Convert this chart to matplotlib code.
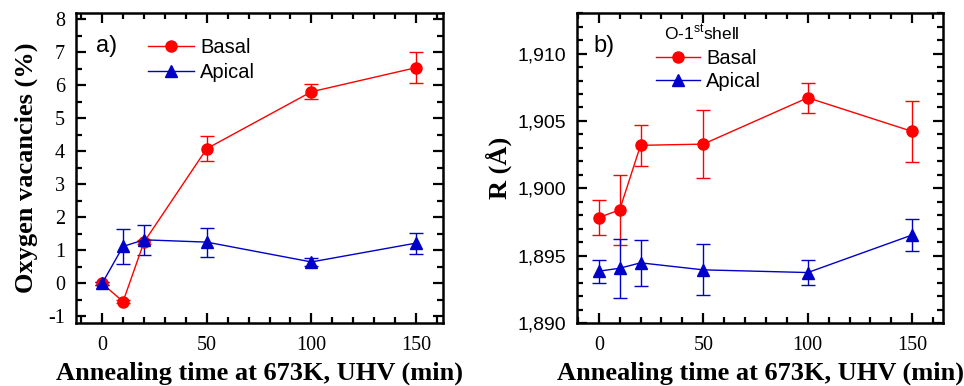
import numpy as np
import matplotlib
matplotlib.use('Agg')
import matplotlib.pyplot as plt
from matplotlib.ticker import MultipleLocator, FuncFormatter
from matplotlib.lines import Line2D

plt.rcParams['axes.unicode_minus'] = False

# annealing times (min)
time = [0, 10, 20, 50, 100, 150]

# a) oxygen vacancies (%)
vac_basal = [0.0, -0.55, 1.25, 4.08, 5.80, 6.53]
vac_basal_err = [0.05, 0.05, 0.07, 0.37, 0.23, 0.46]
vac_apical = [0.0, 1.12, 1.32, 1.25, 0.65, 1.22]
vac_apical_err = [0.05, 0.53, 0.46, 0.44, 0.12, 0.32]

# b) O-1st shell distance R (A)
r_basal = [1.89783, 1.89840, 1.90319, 1.90328, 1.90672, 1.90422]
r_basal_err = [0.00127, 0.0026, 0.0015, 0.0025, 0.0011, 0.00225]
r_apical = [1.89385, 1.89407, 1.89447, 1.89395, 1.89375, 1.89654]
r_apical_err = [0.00084, 0.0022, 0.0017, 0.0019, 0.00095, 0.00116]

SERIF = 'Liberation Serif'
SANS = 'Liberation Sans'
RED = '#ff0000'
BLUE = '#0000c8'

fig = plt.figure(figsize=(9.64, 3.86), dpi=100)
ax1 = fig.add_axes([0.0788, 0.163, 0.381, 0.803])
ax2 = fig.add_axes([0.599, 0.163, 0.379, 0.803])


def style_axes(ax):
    for s in ax.spines.values():
        s.set_linewidth(1.8)
    ax.tick_params(which='both', direction='in', top=True, right=True, width=1.6)
    ax.tick_params(which='major', length=7)
    ax.tick_params(which='minor', length=4)
    ax.xaxis.set_major_locator(MultipleLocator(50))
    ax.xaxis.set_minor_locator(MultipleLocator(10))
    for lab in ax.get_xticklabels():
        lab.set_fontfamily(SERIF)
        lab.set_fontsize(14.5)
    ax.tick_params(axis='x', pad=9)
    ax.tick_params(axis='y', pad=8)
    ax.set_xlabel('Annealing time at 673K, UHV (min)', family=SERIF,
                  fontweight='bold', fontsize=19, labelpad=5)


def draw(ax, yb, eb, ya, ea):
    ax.errorbar(time, yb, yerr=eb, color=RED, marker='o', markersize=8,
                lw=1, elinewidth=1, capsize=5, capthick=1, label='Basal')
    ax.errorbar(time, ya, yerr=ea, color=BLUE, marker='^', markersize=9,
                lw=1, elinewidth=1, capsize=5, capthick=1, label='Apical')


# panel a
draw(ax1, vac_basal, vac_basal_err, vac_apical, vac_apical_err)
ax1.set_xlim(-12.5, 163)
ax1.set_ylim(-1.2, 8.18)
ax1.yaxis.set_major_locator(MultipleLocator(1))
ax1.yaxis.set_minor_locator(MultipleLocator(0.5))
style_axes(ax1)
for lab in ax1.get_yticklabels():
    lab.set_fontfamily(SERIF)
    lab.set_fontsize(14.5)
ax1.set_ylabel('Oxygen vacancies (%)', family=SERIF, fontweight='bold',
               fontsize=19, labelpad=7)
ax1.text(0.055, 0.893, 'a)', transform=ax1.transAxes, family=SANS, fontsize=17,
         va='center')

handles = [Line2D([], [], color=RED, marker='o', markersize=8, lw=1),
           Line2D([], [], color=BLUE, marker='^', markersize=9, lw=1)]
ax1.legend(handles, ['Basal', 'Apical'], loc='upper left',
           bbox_to_anchor=(0.195, 0.92), frameon=False, handlelength=2.3,
           handletextpad=0.3, labelspacing=0.32, borderpad=0, borderaxespad=0,
           prop={'family': SANS, 'size': 14.5})

# panel b
draw(ax2, r_basal, r_basal_err, r_apical, r_apical_err)
ax2.set_xlim(-10.2, 164.6)
ax2.set_ylim(1.890, 1.913)
ax2.yaxis.set_major_locator(MultipleLocator(0.005))
ax2.yaxis.set_minor_locator(MultipleLocator(0.001))
ax2.yaxis.set_major_formatter(FuncFormatter(lambda v, p: f'{v:.3f}'.replace('.', ',')))
style_axes(ax2)
for lab in ax2.get_yticklabels():
    lab.set_fontfamily(SANS)
    lab.set_fontsize(14)
ax2.set_ylabel('R (Å)', family=SERIF, fontweight='bold', fontsize=19, labelpad=4)
ax2.text(0.045, 0.893, 'b)', transform=ax2.transAxes, family=SANS, fontsize=17,
         va='center')
ax2.text(0.237, 0.935, 'O-1$^{\\mathregular{st}}$shell', transform=ax2.transAxes,
         family=SANS, fontsize=12.5, va='center')
ax2.legend(handles, ['Basal', 'Apical'], loc='upper left',
           bbox_to_anchor=(0.215, 0.885), frameon=False, handlelength=2.2,
           handletextpad=0.3, labelspacing=0.22, borderpad=0, borderaxespad=0,
           prop={'family': SANS, 'size': 14.5})

fig.savefig('out.png', dpi=100)
